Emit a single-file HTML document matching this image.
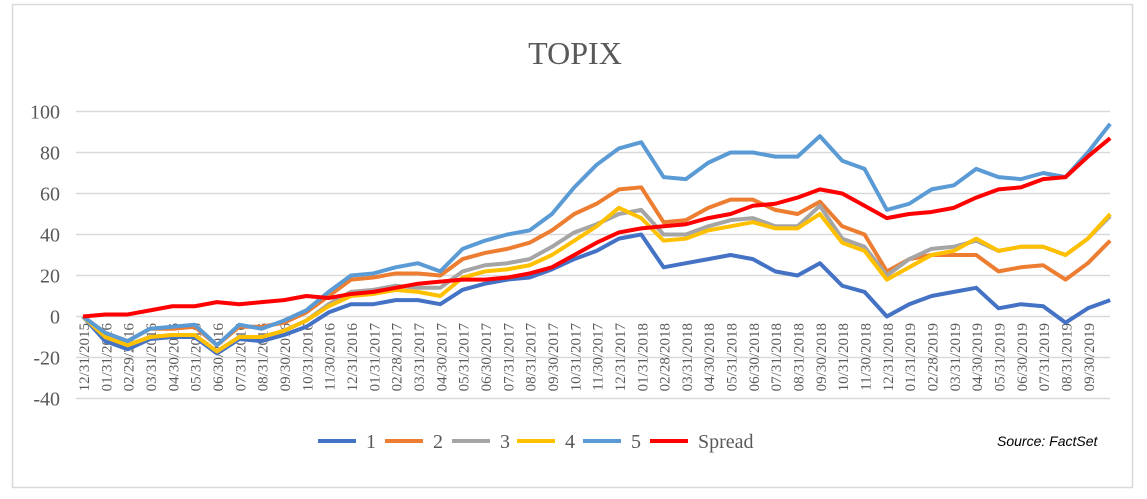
<!DOCTYPE html>
<html><head><meta charset="utf-8"><style>
body{margin:0;background:#fff;width:1147px;height:499px;overflow:hidden}
svg{display:block}
</style></head><body>
<svg id="chart" width="1147" height="499" xmlns="http://www.w3.org/2000/svg">
<rect x="12.5" y="4.5" width="1120" height="483" fill="#fff" stroke="#d9d9d9" stroke-width="1.5"/>
<text x="575" y="64" text-anchor="middle" font-family="Liberation Serif, serif" font-size="32" fill="#595959">TOPIX</text>
<g id="grid"></g><g id="ylabels"></g><g id="xlabels"></g><g id="series"></g>
<g id="legend"></g>
<text x="997" y="446" font-family="Liberation Sans, sans-serif" font-style="italic" font-size="14" fill="#000">Source: FactSet</text>
</svg>
<script>
const months=["12/31/2015","01/31/2016","02/29/2016","03/31/2016","04/30/2016","05/31/2016","06/30/2016","07/31/2016","08/31/2016","09/30/2016","10/31/2016","11/30/2016","12/31/2016","01/31/2017","02/28/2017","03/31/2017","04/30/2017","05/31/2017","06/30/2017","07/31/2017","08/31/2017","09/30/2017","10/31/2017","11/30/2017","12/31/2017","01/31/2018","02/28/2018","03/31/2018","04/30/2018","05/31/2018","06/30/2018","07/31/2018","08/31/2018","09/30/2018","10/31/2018","11/30/2018","12/31/2018","01/31/2019","02/28/2019","03/31/2019","04/30/2019","05/31/2019","06/30/2019","07/31/2019","08/31/2019","09/30/2019"];
const yTicks=[100,80,60,40,20,0,-20,-40];
const s1=[0,-12,-16,-11,-10,-10,-18,-11,-12,-9,-5,2,6,6,8,8,6,13,16,18,19,23,28,32,38,40,24,26,28,30,28,22,20,26,15,12,0,6,10,12,14,4,6,5,-3,4,8];
const s2=[0,-8,-12,-6,-6,-5,-14,-5,-5,-3,2,10,18,19,21,21,20,28,31,33,36,42,50,55,62,63,46,47,53,57,57,52,50,56,44,40,22,28,30,30,30,22,24,25,18,26,37];
const s3=[0,-10,-14,-10,-9,-9,-17,-10,-10,-7,-2,6,12,13,15,14,14,22,25,26,28,34,41,45,50,52,40,40,44,47,48,44,44,54,38,34,20,28,33,34,37,32,34,34,30,38,49];
const s4=[0,-10,-14,-10,-9,-9,-17,-10,-10,-7,-2,5,10,11,13,12,10,19,22,23,25,30,37,44,53,48,37,38,42,44,46,43,43,50,36,32,18,24,30,32,38,32,34,34,30,38,50];
const s5=[0,-8,-12,-6,-5,-4,-14,-4,-6,-2,3,12,20,21,24,26,22,33,37,40,42,50,63,74,82,85,68,67,75,80,80,78,78,88,76,72,52,55,62,64,72,68,67,70,68,80,94];
const spread=[0,1,1,3,5,5,7,6,7,8,10,9,11,12,14,16,17,18,18,19,21,24,30,36,41,43,44,45,48,50,54,55,58,62,60,54,48,50,51,53,58,62,63,67,68,78,87];
const NS="http://www.w3.org/2000/svg";
const X0=83,DX=22.33,Y0=316.5,PX=41/20;
const xs=i=>X0+DX*i, ys=v=>Y0-v*PX;
function mk(t,a,p){const e=document.createElementNS(NS,t);for(const k in a)e.setAttribute(k,a[k]);p.appendChild(e);return e;}
const grid=document.getElementById('grid'),yl=document.getElementById('ylabels'),xl=document.getElementById('xlabels'),sg=document.getElementById('series'),lg=document.getElementById('legend');
yTicks.forEach(t=>{
 const l=mk('line',{x1:76,x2:1110,y1:ys(t),y2:ys(t),stroke:'#d9d9d9','stroke-width':1.5},grid);
 
 
 const tx=mk('text',{x:60,y:ys(t)+7,'text-anchor':'end','font-family':'Liberation Serif, serif','font-size':20,fill:'#595959'},yl);
 tx.textContent=t;
 
 
});
months.forEach((m,i)=>{
 const tx=mk('text',{transform:`translate(${xs(i)+6},323) rotate(-90)`,'text-anchor':'end','font-family':'Liberation Serif, serif','font-size':15,fill:'#595959'},xl);
 tx.textContent=m;
 
 
});
const series=[["1",s1,"#4472C4"],["2",s2,"#ED7D31"],["3",s3,"#A5A5A5"],["4",s4,"#FFC000"],["5",s5,"#5B9BD5"],["Spread",spread,"#FF0000"]];
series.forEach(([n,d,c])=>{
 const pts=d.map((v,i)=>xs(Math.min(i,46.1))+','+ys(v)).join(' ');
 const p=mk('polyline',{points:pts,fill:'none',stroke:c,'stroke-width':4,'stroke-linejoin':'round'},sg);
 
 
});
const lx=[318,385,452,517,583,650];
series.forEach(([n,d,c],i)=>{
 const g=mk('g',{},lg);
 
 
 mk('line',{x1:lx[i],x2:lx[i]+38,y1:441,y2:441,stroke:c,'stroke-width':4},g);
 const t=mk('text',{x:lx[i]+48,y:448,'font-family':'Liberation Serif, serif','font-size':20,fill:'#595959'},g);
 t.textContent=n;
});
</script>
</body></html>
